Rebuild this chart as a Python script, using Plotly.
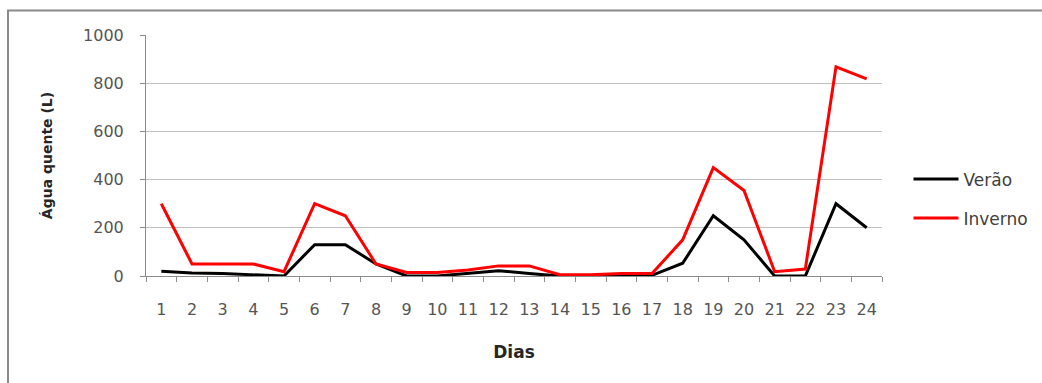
import plotly.graph_objects as go

# Daily hot water use (litres), summer vs winter
dias = [str(d) for d in range(1, 25)]
verao = [20, 12, 10, 5, 0, 130, 130, 50, 0, 0, 10, 22, 10, 0, 0, 0, 3, 53, 250, 150, 0, 0, 300, 200]
inverno = [300, 50, 50, 50, 18, 300, 250, 50, 15, 15, 25, 42, 42, 5, 5, 10, 10, 150, 450, 355, 18, 29, 868, 818]

y_ticks = [0, 200, 400, 600, 800, 1000]

FONT = "DejaVu Sans"
TICK_COLOR = "#555555"
TITLE_COLOR = "#262626"

fig = go.Figure()
fig.add_trace(go.Scatter(x=dias, y=verao, name="Verão", mode="lines",
                         line=dict(color="#000000", width=3), legendgroup="v"))
fig.add_trace(go.Scatter(x=dias, y=inverno, name="Inverno", mode="lines",
                         line=dict(color="#ff0000", width=3), legendgroup="i"))

# outer chart frame (left and top edges)
fig.add_shape(type="path", xref="paper", yref="paper",
              path="M -0.1875,-0.45 L -0.1875,1.1017 L 1.22,1.1017",
              line=dict(color="#8a8a8a", width=2))

fig.update_layout(
    width=1042, height=383,
    margin=dict(l=146, r=160, t=35, b=107, autoexpand=False),
    paper_bgcolor="white", plot_bgcolor="white",
    font=dict(family=FONT, size=16, color=TICK_COLOR),
    showlegend=True,
    legend=dict(x=1.036, y=0.32, xanchor="left", yanchor="middle",
                font=dict(family=FONT, size=17, color="#404040"),
                tracegroupgap=14, itemwidth=45, traceorder="grouped",
                bgcolor="rgba(0,0,0,0)"),
    xaxis=dict(type="category", range=[-0.5, 23.5], showgrid=False,
               showline=True, linecolor="#8c8c8c", linewidth=1,
               ticks="outside", tickson="boundaries", ticklen=5,
               tickcolor="#8c8c8c", ticklabelstandoff=19,
               tickfont=dict(family=FONT, size=16, color=TICK_COLOR),
               title=dict(text="<b>Dias</b>", standoff=27,
                          font=dict(family=FONT, size=17, color=TITLE_COLOR))),
    yaxis=dict(range=[0, 1000], tickvals=y_ticks, showgrid=True,
               gridcolor="#bfbfbf", gridwidth=1, zeroline=False,
               showline=True, linecolor="#8c8c8c", linewidth=1,
               ticks="outside", ticklen=5, tickcolor="#8c8c8c",
               ticklabelstandoff=13,
               tickfont=dict(family=FONT, size=16, color=TICK_COLOR),
               title=dict(text="<b>Água quente (L)</b>", standoff=27,
                          font=dict(family=FONT, size=14, color=TITLE_COLOR))),
)

fig.write_html("out.html")
